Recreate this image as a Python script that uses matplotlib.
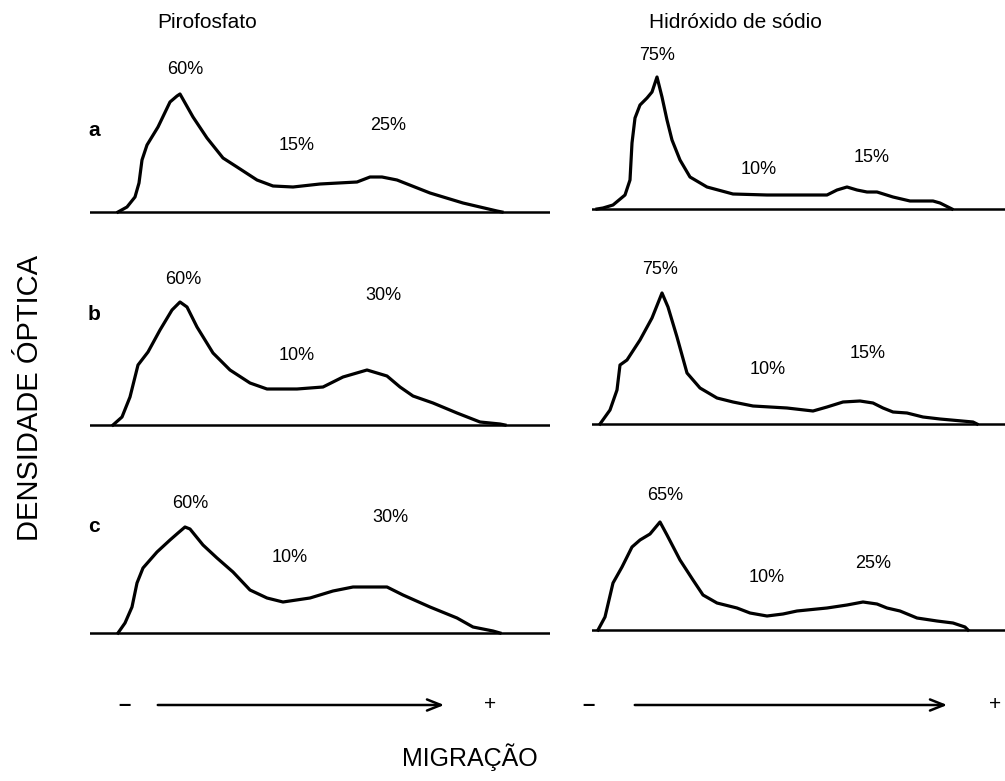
import matplotlib.pyplot as plt
from matplotlib.patches import FancyArrowPatch

W, H = 1005, 781

# densitometer traces, x = migration distance, y = optical density (arbitrary units)
pir_a_x = [28, 37, 45, 49, 52, 57, 68, 80, 87, 90, 103, 117, 133, 147, 167, 183, 203, 230, 267, 280, 292, 307, 340, 373, 407, 412]
pir_a_y = [0, 5, 15, 29, 52, 67, 85, 110, 116, 118, 95, 74, 54, 45, 32, 26, 25, 28, 30, 35, 35, 32, 19, 9, 1, 0]

pir_b_x = [23, 32, 40, 48, 58, 70, 82, 90, 97, 107, 123, 140, 160, 177, 207, 233, 253, 277, 297, 310, 323, 343, 367, 390, 410, 415]
pir_b_y = [0, 8, 28, 60, 73, 95, 115, 123, 118, 98, 72, 55, 42, 36, 36, 38, 48, 55, 49, 38, 29, 22, 12, 3, 1, 0]

pir_c_x = [28, 35, 42, 47, 53, 67, 80, 88, 95, 100, 113, 127, 143, 160, 177, 193, 220, 243, 263, 297, 313, 340, 367, 383, 403, 410]
pir_c_y = [0, 10, 26, 50, 65, 81, 93, 100, 106, 104, 88, 75, 61, 43, 35, 31, 35, 42, 46, 46, 38, 26, 15, 6, 2, 0]

naoh_a_x = [5, 11, 21, 33, 38, 40, 43, 48, 55, 60, 65, 70, 75, 80, 88, 98, 115, 141, 175, 235, 245, 255, 265, 275, 285, 301, 318, 341, 348, 356, 360]
naoh_a_y = [0, 1, 4, 14, 29, 66, 91, 104, 111, 117, 132, 112, 89, 69, 49, 32, 22, 15, 14, 14, 19, 22, 19, 17, 17, 12, 8, 8, 6, 2, 0]

naoh_b_x = [8, 18, 25, 28, 35, 48, 60, 70, 76, 85, 95, 108, 125, 141, 161, 195, 221, 235, 251, 268, 281, 291, 301, 315, 331, 348, 381, 385]
naoh_b_y = [0, 14, 34, 59, 64, 84, 106, 131, 117, 87, 51, 36, 26, 22, 18, 16, 13, 17, 22, 23, 21, 16, 12, 11, 7, 5, 2, 0]

naoh_c_x = [6, 13, 21, 30, 40, 48, 58, 63, 68, 75, 88, 101, 111, 125, 145, 158, 175, 191, 205, 235, 255, 271, 285, 295, 308, 325, 345, 361, 373, 376]
naoh_c_y = [0, 13, 47, 63, 83, 90, 96, 102, 108, 95, 70, 50, 35, 27, 22, 17, 14, 16, 19, 22, 25, 28, 26, 22, 19, 12, 9, 7, 3, 0]

# fraction percentages per trace: (text, x, y)
pir_a_lbl = [("60%", 95, 142), ("15%", 207, 67), ("25%", 298, 87)]
pir_b_lbl = [("60%", 93, 145), ("10%", 207, 70), ("30%", 293, 130)]
pir_c_lbl = [("60%", 100, 130), ("10%", 200, 75), ("30%", 300, 116)]
naoh_a_lbl = [("75%", 65, 154), ("10%", 167, 39), ("15%", 280, 52)]
naoh_b_lbl = [("75%", 68, 154), ("10%", 176, 55), ("15%", 276, 71)]
naoh_c_lbl = [("65%", 73, 134), ("10%", 175, 52), ("25%", 281, 67)]

columns = ["Pirofosfato", "Hidróxido de sódio"]

# panel placement in pixels: left edge, baseline, width
left_x0, left_w = 90, 460
right_x0, right_w = 592, 413
bases_left = [212, 425, 633]
bases_right = [209, 424, 630]

panels = [
    (left_x0, bases_left[0], left_w, pir_a_x, pir_a_y, pir_a_lbl, "a", 81),
    (left_x0, bases_left[1], left_w, pir_b_x, pir_b_y, pir_b_lbl, "b", 110),
    (left_x0, bases_left[2], left_w, pir_c_x, pir_c_y, pir_c_lbl, "c", 106),
    (right_x0, bases_right[0], right_w, naoh_a_x, naoh_a_y, naoh_a_lbl, None, 0),
    (right_x0, bases_right[1], right_w, naoh_b_x, naoh_b_y, naoh_b_lbl, None, 0),
    (right_x0, bases_right[2], right_w, naoh_c_x, naoh_c_y, naoh_c_lbl, None, 0),
]

plt.rcParams['font.family'] = ['Liberation Sans', 'DejaVu Sans']

fig = plt.figure(figsize=(W / 100, H / 100), dpi=100)
fig.patch.set_facecolor('white')

below, height = 8, 175
for x0, base, w, xs, ys, lbls, letter, ly in panels:
    ax = fig.add_axes([x0 / W, (H - base - below) / H, w / W, height / H])
    ax.set_xlim(0, w)
    ax.set_ylim(-below, height - below)
    ax.axis('off')
    ax.axhline(0, color='black', lw=1.8)
    ax.plot(xs, ys, color='black', lw=2.3, solid_joinstyle='round')
    for txt, tx, ty in lbls:
        ax.text(tx, ty, txt, ha='center', va='center', fontsize=13)
    if letter:
        ax.text(4, ly, letter, ha='center', va='center', fontsize=15, fontweight='bold')

# column titles
fig.text(207 / W, 1 - 22 / H, columns[0], ha='center', va='center', fontsize=15)
fig.text(735 / W, 1 - 22 / H, columns[1], ha='center', va='center', fontsize=15)

# axis titles
fig.text(30 / W, 1 - 398 / H, "DENSIDADE ÓPTICA", rotation=90, ha='center', va='center',
         fontsize=21)
fig.text(470 / W, 1 - 757 / H, "MIGRAÇÃO", ha='center', va='center', fontsize=18)

# migration direction arrows
arrow_y = 1 - 705 / H
for xa, xb, xm, xp in [(155, 447, 124, 490), (632, 950, 588, 995)]:
    fig.add_artist(FancyArrowPatch(
        (xa / W, arrow_y), (xb / W, arrow_y), transform=fig.transFigure,
        arrowstyle='->,head_length=10,head_width=4', mutation_scale=1,
        color='black', lw=1.8))
    fig.text(xm / W, arrow_y, "–", ha='center', va='center', fontsize=16, fontweight='bold')
    fig.text(xp / W, arrow_y, "+", ha='center', va='center', fontsize=15)

fig.savefig('out.png', dpi=100, facecolor='white')
